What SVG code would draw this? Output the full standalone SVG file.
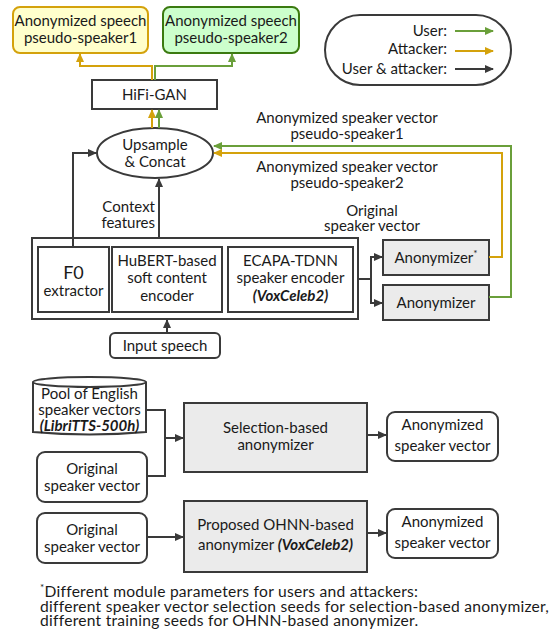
<svg xmlns="http://www.w3.org/2000/svg" width="549" height="639" viewBox="0 0 549 639">
<defs>
<marker id="ak" markerWidth="9" markerHeight="8" refX="8" refY="4" orient="auto" markerUnits="userSpaceOnUse"><path d="M0,0 L9,4 L0,8 Z" fill="#3a3a3a"/></marker>
<marker id="ag" markerWidth="9" markerHeight="8" refX="8" refY="4" orient="auto" markerUnits="userSpaceOnUse"><path d="M0,0 L9,4 L0,8 Z" fill="#6a9f3a"/></marker>
<marker id="ay" markerWidth="9" markerHeight="8" refX="8" refY="4" orient="auto" markerUnits="userSpaceOnUse"><path d="M0,0 L9,4 L0,8 Z" fill="#d4a20c"/></marker>
</defs>
<style>
text{font-family:Lato,"Open Sans","Liberation Sans",sans-serif;font-size:15px;fill:#1a1a1a}
.c{text-anchor:middle}
.r{text-anchor:end}
.bi{font-weight:bold;font-style:italic}
.sup{font-size:10px;baseline-shift:super}
.box{fill:#fff;stroke:#3a3a3a;stroke-width:2}
.gbox{fill:#ebebeb;stroke:#3a3a3a;stroke-width:2}
.k{fill:none;stroke:#3a3a3a;stroke-width:2}
.g{fill:none;stroke:#6a9f3a;stroke-width:2}
.y{fill:none;stroke:#d4a20c;stroke-width:2}
.fn{font-size:15.6px;letter-spacing:0.25px}
</style>
<rect width="549" height="639" fill="#fff"/>

<g id="out1"><rect x="13" y="7" width="135" height="46" rx="7" fill="#ffffcc" stroke="#d4a20c" stroke-width="2"/>
<text class="c" x="80.5" y="26">Anonymized speech</text><text class="c" x="80.5" y="43">pseudo-speaker1</text></g>
<g id="out2"><rect x="163" y="7" width="136" height="46" rx="7" fill="#ccffcc" stroke="#3b7a10" stroke-width="2"/>
<text class="c" x="231" y="26">Anonymized speech</text><text class="c" x="231" y="43">pseudo-speaker2</text></g>

<g id="legend"><rect x="325" y="15" width="186" height="70" rx="35" fill="#fff" stroke="#3a3a3a" stroke-width="2"/>
<text class="r" x="447" y="36">User:</text><text class="r" x="447" y="54">Attacker:</text><text class="r" x="447" y="74">User &amp; attacker:</text>
<line class="g" x1="455" y1="31" x2="493" y2="31" marker-end="url(#ag)"/>
<line class="y" x1="455" y1="51" x2="493" y2="51" marker-end="url(#ay)"/>
<line class="k" x1="455" y1="69" x2="493" y2="69" marker-end="url(#ak)"/></g>

<g id="hifigan"><rect class="box" x="92" y="80" width="125" height="29"/><text class="c" x="154.5" y="100">HiFi-GAN</text></g>
<g id="concat"><ellipse cx="155" cy="153" rx="58" ry="25" fill="#fff" stroke="#3a3a3a" stroke-width="2"/>
<text class="c" x="155" y="150">Upsample</text><text class="c" x="155" y="167">&amp; Concat</text></g>

<g id="labels">
<text class="c" x="347" y="123">Anonymized speaker vector</text><text class="c" x="347" y="139">pseudo-speaker1</text>
<text class="c" x="347" y="172">Anonymized speaker vector</text><text class="c" x="347" y="188">pseudo-speaker2</text>
<text class="r" x="155" y="212">Context</text><text class="r" x="155" y="228">features</text>
<text class="c" x="372" y="215.5">Original</text><text class="c" x="372" y="231">speaker vector</text>
</g>

<g id="encoders"><rect class="box" x="32" y="238" width="326" height="81"/></g>
<g id="f0"><rect class="box" x="38" y="247" width="71" height="65"/><text class="c" x="73.5" y="279" style="font-size:18px">F0</text><text class="c" x="73.5" y="296">extractor</text></g>
<g id="hubert"><rect class="box" x="112" y="247" width="110" height="65"/><text class="c" x="167" y="266">HuBERT-based</text><text class="c" x="167" y="283">soft content</text><text class="c" x="167" y="301">encoder</text></g>
<g id="ecapa"><rect class="box" x="228" y="247" width="125" height="65"/><text class="c" x="290.5" y="266">ECAPA-TDNN</text><text class="c" x="290.5" y="283">speaker encoder</text><text class="c bi" x="290.5" y="301">(VoxCeleb2)</text></g>
<g id="anon_star"><rect class="gbox" x="383" y="240" width="106" height="35"/><text class="c" x="436" y="263">Anonymizer<tspan class="sup">*</tspan></text></g>
<g id="anon"><rect class="gbox" x="383" y="285" width="106" height="35"/><text class="c" x="436" y="308">Anonymizer</text></g>
<g id="input"><rect class="box" x="110" y="333" width="110" height="25" rx="5"/><text class="c" x="165" y="351">Input speech</text></g>

<g id="pool"><path d="M33,382 L33,432 Q89.5,437 146,432 L146,382" fill="#fff" stroke="#3a3a3a" stroke-width="2"/><ellipse cx="89.5" cy="382" rx="56.5" ry="5" fill="#fff" stroke="#3a3a3a" stroke-width="2"/>
<text class="c" x="89.5" y="399">Pool of English</text><text class="c" x="89.5" y="415">speaker vectors</text><text class="c bi" x="89.5" y="431">(LibriTTS-500h)</text></g>
<g id="orig1"><rect class="box" x="37" y="452" width="110" height="50" rx="8"/><text class="c" x="92" y="474">Original</text><text class="c" x="92" y="491">speaker vector</text></g>
<g id="selection"><rect class="gbox" x="184" y="403" width="183" height="69"/><text class="c" x="275.5" y="433">Selection-based</text><text class="c" x="275.5" y="450">anonymizer</text></g>
<g id="anonvec1"><rect class="box" x="387" y="412" width="111" height="49" rx="8"/><text class="c" x="442.5" y="430">Anonymized</text><text class="c" x="442.5" y="451">speaker vector</text></g>
<g id="orig2"><rect class="box" x="37" y="513" width="110" height="50" rx="8"/><text class="c" x="92" y="535">Original</text><text class="c" x="92" y="552">speaker vector</text></g>
<g id="ohnn"><rect class="gbox" x="184" y="501" width="183" height="71"/><text class="c" x="275.5" y="530">Proposed OHNN-based</text><text class="c" x="275.5" y="550">anonymizer <tspan class="bi">(VoxCeleb2)</tspan></text></g>
<g id="anonvec2"><rect class="box" x="387" y="509" width="111" height="49" rx="8"/><text class="c" x="442.5" y="527">Anonymized</text><text class="c" x="442.5" y="548">speaker vector</text></g>

<g id="footnote">
<text class="fn" x="40" y="597"><tspan class="sup">*</tspan>Different module parameters  for users and attackers:</text>
<text class="fn" x="40" y="611.5">different speaker vector selection seeds for selection-based anonymizer,</text>
<text class="fn" x="40" y="626">different training seeds for OHNN-based anonymizer.</text>
</g>

<g id="connectors">
<polyline class="y" points="152,80 152,66 80,66 80,54" marker-end="url(#ay)"/>
<polyline class="g" points="155,80 155,66 232,66 232,54" marker-end="url(#ag)"/>
<line class="y" x1="152" y1="128" x2="152" y2="110" marker-end="url(#ay)"/>
<line class="g" x1="159" y1="128" x2="159" y2="110" marker-end="url(#ag)"/>
<polyline class="k" points="73,247 73,153 96,153" marker-end="url(#ak)"/>
<line class="k" x1="159" y1="238" x2="159" y2="179" marker-end="url(#ak)"/>
<polyline class="g" points="489,297 511,297 511,146 214,146" marker-end="url(#ag)"/>
<polyline class="y" points="489,257 502,257 502,153 214,153" marker-end="url(#ay)"/>
<polyline class="k" points="358,279 371,279"/>
<polyline class="k" points="371,279 371,257 382,257" marker-end="url(#ak)"/>
<polyline class="k" points="371,279 371,303 382,303" marker-end="url(#ak)"/>
<line class="k" x1="167" y1="333" x2="167" y2="320" marker-end="url(#ak)"/>
<polyline class="k" points="146,410 165,410 165,476 147,476"/>
<line class="k" x1="165" y1="438" x2="183" y2="438" marker-end="url(#ak)"/>
<line class="k" x1="367" y1="435" x2="386" y2="435" marker-end="url(#ak)"/>
<line class="k" x1="147" y1="537" x2="183" y2="537" marker-end="url(#ak)"/>
<line class="k" x1="367" y1="533" x2="386" y2="533" marker-end="url(#ak)"/>
</g>
</svg>
